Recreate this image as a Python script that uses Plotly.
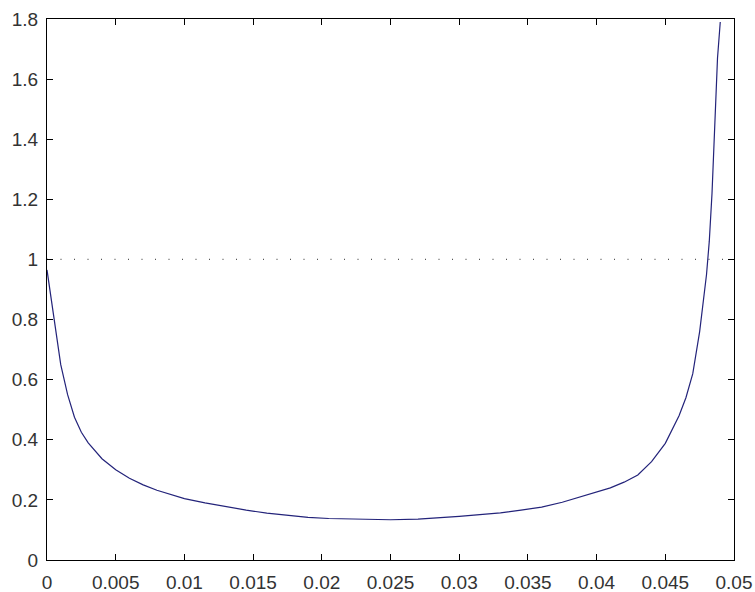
import plotly.graph_objects as go

x_vals = [0, 0.0005, 0.001, 0.0015, 0.002, 0.0025, 0.003, 0.004, 0.005, 0.006,
          0.007, 0.008, 0.009, 0.01, 0.0115, 0.013, 0.0145, 0.016, 0.0175, 0.019,
          0.0205, 0.022, 0.025, 0.027, 0.0285, 0.03, 0.0315, 0.033, 0.0345, 0.036,
          0.0375, 0.039, 0.04, 0.041, 0.042, 0.043, 0.044, 0.045, 0.046, 0.0465,
          0.047, 0.0475, 0.048, 0.0482, 0.0484, 0.0486, 0.0487, 0.0488, 0.049]
y_vals = [0.965, 0.80, 0.65, 0.55, 0.475, 0.425, 0.39, 0.337, 0.30, 0.272,
          0.25, 0.232, 0.217, 0.204, 0.19, 0.177, 0.166, 0.156, 0.148, 0.142,
          0.138, 0.136, 0.134, 0.136, 0.14, 0.145, 0.151, 0.157, 0.166, 0.176,
          0.192, 0.212, 0.225, 0.24, 0.259, 0.283, 0.327, 0.388, 0.48, 0.54,
          0.62, 0.76, 0.95, 1.06, 1.22, 1.44, 1.56, 1.67, 1.79]

ref_x = [0, 0.05]
ref_y = [1, 1]

x_ticks = [0, 0.005, 0.01, 0.015, 0.02, 0.025, 0.03, 0.035, 0.04, 0.045, 0.05]
x_tick_text = ["0", "0.005", "0.01", "0.015", "0.02", "0.025", "0.03", "0.035", "0.04", "0.045", "0.05"]
y_ticks = [0, 0.2, 0.4, 0.6, 0.8, 1, 1.2, 1.4, 1.6, 1.8]
y_tick_text = ["0", "0.2", "0.4", "0.6", "0.8", "1", "1.2", "1.4", "1.6", "1.8"]

fig = go.Figure()
fig.add_trace(go.Scatter(x=ref_x, y=ref_y, mode="lines",
                         line=dict(color="#555555", width=1.2, dash="1px,12.5px"),
                         hoverinfo="skip", showlegend=False))
fig.add_trace(go.Scatter(x=x_vals, y=y_vals, mode="lines",
                         line=dict(color="#23237a", width=1.2),
                         showlegend=False))

axis_common = dict(showgrid=False, zeroline=False, showline=True, linecolor="black",
                   linewidth=1, mirror="ticks", ticks="inside", ticklen=6,
                   tickcolor="black", tickwidth=1, automargin=False,
                   tickfont=dict(family="Liberation Sans, Arial, sans-serif", size=19, color="#333333"))

fig.update_xaxes(range=[0, 0.05], tickvals=x_ticks, ticktext=x_tick_text,
                 ticklabelstandoff=5, **axis_common)
fig.update_yaxes(range=[0, 1.8], tickvals=y_ticks, ticktext=y_tick_text,
                 ticklabelstandoff=4, **axis_common)

fig.update_layout(width=755, height=592,
                  margin=dict(l=47, r=21, t=19, b=32),
                  paper_bgcolor="white", plot_bgcolor="white")

fig.write_html("out.html", config={"displayModeBar": False},
               post_script="document.body.style.margin='0px';document.body.style.overflow='hidden';")
